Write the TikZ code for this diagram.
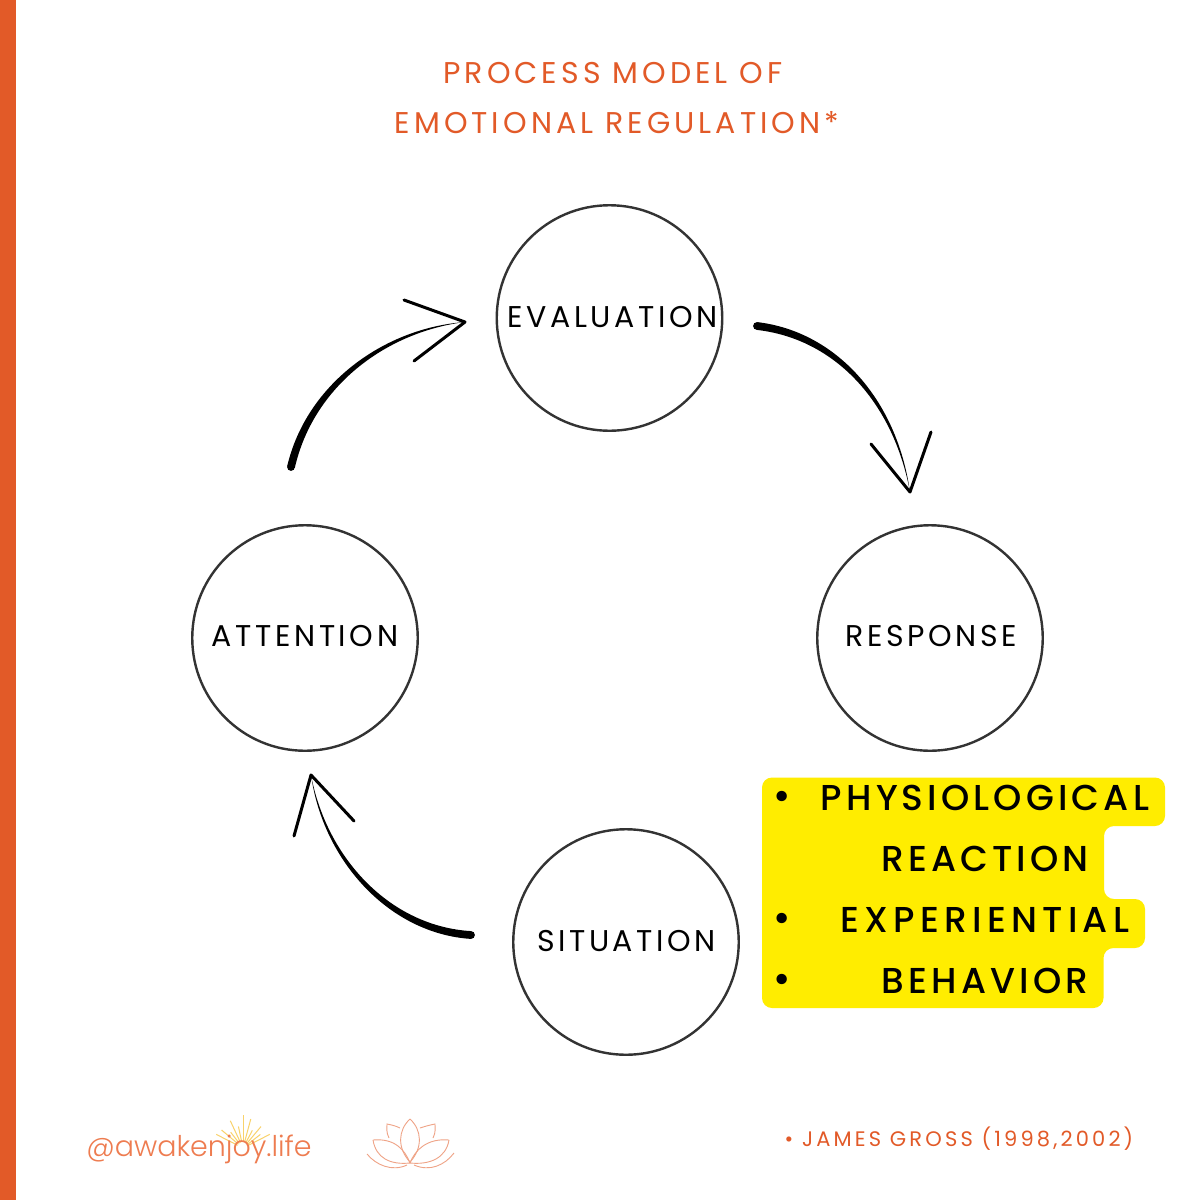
\documentclass[tikz,border=0pt]{standalone}
\usepackage{fontspec}
\setmainfont{Poppins}
\newfontfamily\lblfont[LetterSpace=12]{Poppins}
\newfontfamily\ttlfont[LetterSpace=13.5]{Poppins}
\newfontfamily\listfont[LetterSpace=11.5]{Poppins Medium}
\newfontfamily\listwide[LetterSpace=14.5]{Poppins Medium}
\newfontfamily\footfont[LetterSpace=15]{Poppins}
\newfontfamily\logofont{Poppins Light}
\usetikzlibrary{calc}
\definecolor{brandorange}{HTML}{E25A28}
\definecolor{softorange}{HTML}{EE7C50}
\definecolor{lotuscol}{HTML}{EFA386}
\definecolor{sunyellow}{HTML}{F9D26A}
\definecolor{markyellow}{HTML}{FFED00}
\definecolor{ringcol}{HTML}{333333}
\tikzset{
  ring/.style={circle,draw=ringcol,line width=2.4pt,minimum size=225.5pt,inner sep=0pt,font=\lblfont\fontsize{30}{30}\selectfont,text=black},
  titletext/.style={font=\ttlfont\fontsize{30}{30}\selectfont,text=brandorange,inner sep=0pt},
  listtext/.style={font=\listfont\fontsize{36}{36}\selectfont,text=black,inner sep=0pt},
  bullettext/.style={font=\fontsize{42}{42}\selectfont,text=black,inner sep=0pt},
  headline/.style={line width=3pt,line cap=round,line join=round,draw=black},
  lotus/.style={draw=lotuscol,line width=0.9pt},
  ray/.style={draw=sunyellow,line width=1pt}
}
\newcommand{\taperarrow}[4]{%
  \fill[black] (#1) circle[radius=3.9pt];
  \fill[black] ($(#1)!3.9pt!90:(#2)$) .. controls ($(#2)!3.6pt!-90:(#1)$) and ($(#3)!2.4pt!-90:(#2)$) .. (#4)
     .. controls ($(#3)!2.4pt!90:(#2)$) and ($(#2)!3.6pt!90:(#1)$) .. ($(#1)!3.9pt!-90:(#2)$) -- cycle;
}
\begin{document}
\begin{tikzpicture}[x=1pt,y=-1pt]
\useasboundingbox (0,0) rectangle (1200,1200);
\fill[white] (0,0) rectangle (1200,1200);
\fill[brandorange] (0,0) rectangle (16,1200);

\node[titletext] (title1) at (613,73) {PROCESS MODEL OF};
\node[titletext] (title2) at (617,123) {EMOTIONAL REGULATION*};

\node[ring] (evaluation) at (609.5,318) {\raisebox{3pt}{\hspace*{6pt}EVALUATION}};
\node[ring] (attention) at (305,638) {\raisebox{5pt}{ATTENTION}};
\node[ring] (response) at (930,638) {\raisebox{5pt}{\hspace*{2pt}RESPONSE}};
\node[ring] (situation) at (626,942) {\raisebox{3pt}{\hspace*{1pt}SITUATION}};

% arrow 1
\coordinate (a1s) at (291,467); \coordinate (a1p) at (310,385); \coordinate (a1q) at (385,330); \coordinate (a1e) at (465,322);
\coordinate (a1h) at (404,300); \coordinate (a1k) at (414,361);
\taperarrow{a1s}{a1p}{a1q}{a1e}
\draw[headline] (a1h) -- (a1e) -- (a1k);
% arrow 2
\coordinate (a2s) at (757,326); \coordinate (a2p) at (835,335); \coordinate (a2q) at (895,400); \coordinate (a2e) at (910,492);
\coordinate (a2h) at (871,444); \coordinate (a2k) at (931,432);
\taperarrow{a2s}{a2p}{a2q}{a2e}
\draw[headline] (a2h) -- (a2e) -- (a2k);
% arrow 3
\coordinate (a3s) at (471,935); \coordinate (a3p) at (390,930); \coordinate (a3q) at (325,860); \coordinate (a3e) at (311,775);
\coordinate (a3h) at (294,836); \coordinate (a3k) at (354,821);
\taperarrow{a3s}{a3p}{a3q}{a3e}
\draw[headline] (a3h) -- (a3e) -- (a3k);

% yellow highlight
\fill[markyellow,rounded corners=10pt] (762,777.5) -- (1165,777.5) -- (1165,826) -- (1104,826) -- (1104,899) -- (1145,899) -- (1145,948) -- (1103.5,948) -- (1103.5,1008) -- (762,1008) -- cycle;

\node[bullettext] (b1) at (782,801) {•};
\node[bullettext] (b2) at (782,923) {•};
\node[bullettext] (b3) at (782,984) {•};
\node[listtext] (l1) at (985,798) {PHYSIOLOGICAL};
\node[listtext] (l2) at (985,859) {REACTION};
\node[listtext] (l3) at (985,920) {\listwide EXPERIENTIAL};
\node[listtext] (l4) at (985,981) {BEHAVIOR};

\node[font=\footfont\fontsize{21}{21}\selectfont,text=brandorange,inner sep=0pt] (source) at (959,1139) {• JAMES GROSS (1998,2002)};

% sun rays
\foreach \a/\r in {27/30,38/22,50/28,62/20,75/30,90/33,102/22,115/30,128/20,140/28,153/30}
  \draw[ray] ($(243,1148)+({-\a}:6)$) -- ($(243,1148)+({-\a}:\r)$);
\node[font=\logofont\fontsize{28.5}{28.5}\selectfont,text=softorange,inner sep=0pt] (logo) at (199,1149) {@awakenjoy.life};

% lotus
\draw[lotus] (410,1119) .. controls (398,1130) and (397,1148) .. (410,1162) .. controls (423,1148) and (422,1130) .. (410,1119);
\draw[lotus] (373,1140) .. controls (395,1138) and (405,1150) .. (410,1163) .. controls (390,1165) and (376,1158) .. (373,1140);
\draw[lotus] (449,1140) .. controls (427,1138) and (415,1150) .. (410,1163) .. controls (430,1165) and (446,1158) .. (449,1140);
\draw[lotus] (367,1154) .. controls (376,1165) and (392,1172) .. (407,1165);
\draw[lotus] (454,1153) .. controls (445,1165) and (430,1172) .. (414,1165);
\draw[lotus] (389,1138) .. controls (386,1132) and (387,1128) .. (387,1124) .. controls (392,1125) and (396,1126) .. (400,1128);
\draw[lotus] (433,1138) .. controls (436,1132) and (435,1128) .. (435,1124) .. controls (430,1125) and (426,1126) .. (420,1128);
\end{tikzpicture}
\end{document}
